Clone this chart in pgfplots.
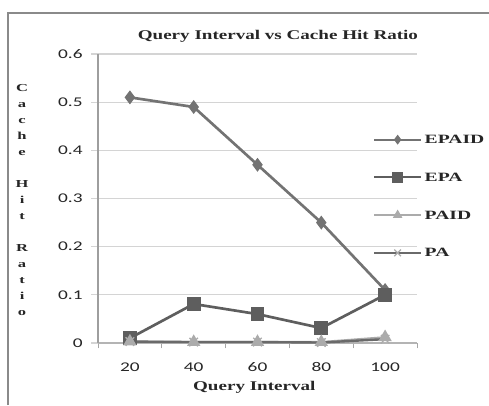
\documentclass[border=0pt]{standalone}
\usepackage{pgfplots}
\pgfplotsset{compat=1.18}
\usepackage{fontspec}
\setmainfont{Liberation Serif}
\newfontfamily\titlefont{Liberation Serif}[FakeStretch=1.43]
\newfontfamily\lblfont{Liberation Serif}[FakeStretch=1.55]
\newfontfamily\tickfont{Carlito}[FakeStretch=1.45]
\definecolor{cEPAID}{HTML}{737373}
\definecolor{cEPA}{HTML}{5E5E5E}
\definecolor{cPAID}{HTML}{ABABAB}
\definecolor{cPA}{HTML}{6A6A6A}
\definecolor{gridc}{HTML}{D4D4D4}
\definecolor{framec}{HTML}{8A8A8A}
\begin{document}
\begin{tikzpicture}
\path[use as bounding box] (0,0) rectangle (366.75pt,303.75pt);
\draw[framec, line width=1.4pt] (6pt,0pt) -- (6pt,294pt) -- (370pt,294pt);
\begin{axis}[
  at={(73.5pt,46.5pt)}, anchor=south west,
  scale only axis, width=239.25pt, height=216.75pt,
  xmin=10, xmax=110, ymin=0, ymax=0.6,
  axis x line=bottom, axis y line=left,
  axis line style={-},
  x axis line style={draw=gridc!85!black, line width=0.8pt},
  y axis line style={draw=black!38, line width=0.8pt},
  xtick={20,40,60,80,100},
  minor xtick={10,30,50,70,90,110},
  major x tick style={draw=none},
  minor x tick style={draw=black!35, line width=0.6pt},
  minor tick length=4pt,
  ytick={0,0.1,0.2,0.3,0.4,0.5,0.6},
  major y tick style={draw=gridc, line width=0.8pt},
  major tick length=5pt,
  tick align=outside,
  ymajorgrids,
  grid style={draw=gridc, line width=0.8pt},
  /pgf/number format/assume math mode=true,
  /pgf/number format/fixed,
  ticklabel style={font=\tickfont\fontsize{10}{12}\selectfont, text=black!85},
  yticklabel style={xshift=-3pt},
  xticklabel style={yshift=-6pt},
  title={Query Interval vs Cache Hit Ratio},
  title style={font=\titlefont\bfseries\fontsize{10}{12}\selectfont, text=black!85, at={(rel axis cs:0.564,1.062)}, anchor=center, yshift=-6pt},
  xlabel={Query Interval},
  xlabel style={font=\titlefont\bfseries\fontsize{10}{12}\selectfont, text=black!85, at={(rel axis cs:0.49,-0.145)}, anchor=center, yshift=-2pt},
  ylabel={C\\a\\c\\h\\e\\\mbox{}\\H\\i\\t\\\mbox{}\\R\\a\\t\\i\\o},
  ylabel style={rotate=-90, align=center, text=black!85, font=\lblfont\bfseries\fontsize{8}{12}\selectfont, at={(rel axis cs:-0.238,0.495)}, anchor=center},
  legend style={draw=none, fill=none, at={(rel axis cs:0.862,0.723)}, anchor=north west,
    inner sep=0pt, row sep=20.3pt, column sep=1pt,
    font=\lblfont\bfseries\fontsize{9.5}{11}\selectfont, text=black!85,
    nodes={inner sep=1pt, anchor=west, text height=6pt, text depth=0pt}},
  legend cell align=left,
  legend image code/.code={\draw[mark repeat=2,mark phase=2,#1] plot coordinates {(0pt,0pt) (17.5pt,0pt) (35pt,0pt)};},
]
\addplot[color=cEPAID, line width=2pt, mark=diamond*, mark size=3.6pt, mark options={solid, fill=cEPAID},
  legend image post style={line width=1.4pt, mark size=2.6pt}]
  coordinates {(20,0.51) (40,0.49) (60,0.37) (80,0.25) (100,0.11)};
\addlegendentry{EPAID}
\addplot[color=cEPA, line width=2pt, mark=square*, mark size=4.2pt, mark options={solid, fill=cEPA},
  legend image post style={line width=1.5pt, mark size=3.3pt}]
  coordinates {(20,0.01) (40,0.081) (60,0.06) (80,0.031) (100,0.10)};
\addlegendentry{EPA}
\addplot[color=cPAID, line width=1.6pt, mark=triangle*, mark size=4.2pt, mark options={solid, fill=cPAID},
  legend image post style={line width=1.2pt, mark size=3pt}]
  coordinates {(20,0.003) (40,0.002) (60,0.002) (80,0.002) (100,0.012)};
\addlegendentry{PAID}
\addplot[color=cPA, line width=1.8pt, mark=x, mark size=4.5pt, mark options={solid, draw=cPAID, line width=1pt},
  legend image post style={line width=1.6pt, mark size=3.5pt}]
  coordinates {(20,0.003) (40,0.002) (60,0.002) (80,0.001) (100,0.008)};
\addlegendentry{PA}
\end{axis}
\end{tikzpicture}
\end{document}
